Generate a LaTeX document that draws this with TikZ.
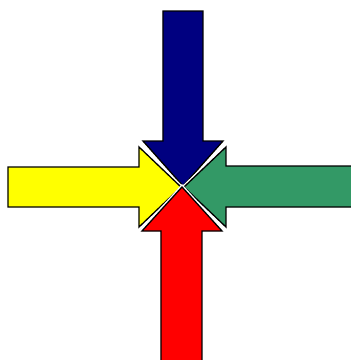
\documentclass[tikz,border=0pt]{standalone}
\begin{document}
\begin{tikzpicture}[x=1pt,y=-1pt,
  arrowshape/.style={fill=#1,draw=black,line width=1.3pt,line join=miter,
    preaction={draw=white,line width=4pt}}]
\definecolor{navyA}{RGB}{0,0,128}
\definecolor{greenA}{RGB}{51,153,102}
\definecolor{yellowA}{RGB}{255,255,0}
\definecolor{redA}{RGB}{255,0,0}
\useasboundingbox (0,0) rectangle (351,360);
\clip (0,0) rectangle (351,360);
% blue (down)
\path[arrowshape=navyA] (163,11) -- (203,11) -- (203,141) -- (223,141) -- (183,186) -- (143,141) -- (163,141) -- cycle;
% yellow (right)
\path[arrowshape=yellowA] (8,167) -- (139,167) -- (139,147) -- (181,187) -- (139,227) -- (139,207) -- (8,207) -- cycle;
% green (left)
\path[arrowshape=greenA] (362,166) -- (226,166) -- (226,147) -- (184,187) -- (226,227) -- (226,207) -- (362,207) -- cycle;
% red (up)
\path[arrowshape=redA] (161,372) -- (161,231) -- (142,231) -- (182,187) -- (222,231) -- (202,231) -- (202,372) -- cycle;
\end{tikzpicture}
\end{document}
